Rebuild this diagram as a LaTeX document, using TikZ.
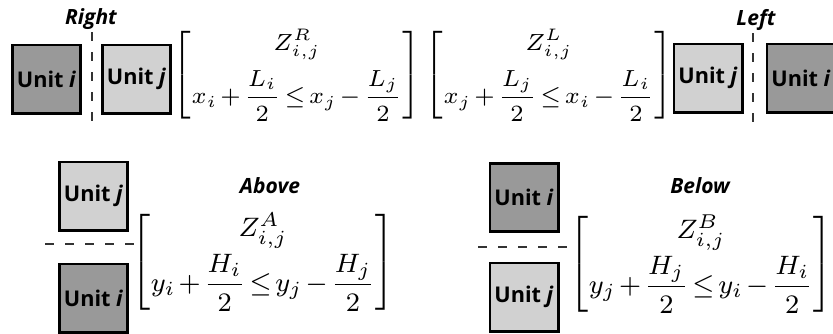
\documentclass[tikz,border=0pt]{standalone}
\usepackage{amsmath, amssymb}
\usepackage{fontspec}
\newfontfamily\labelfont{Open Sans}
\usetikzlibrary{positioning}
\setlength{\arraycolsep}{1pt}
\thickmuskip=2.5mu plus 2mu
\medmuskip=2mu plus 1mu

\begin{document}
\begin{tikzpicture}[x=0.3pt, y=-0.3pt,
    unitdark/.style={draw, line width=0.8pt, fill=black!40, minimum width=20.5pt, minimum height=20.5pt, inner sep=0pt, font=\labelfont\fontsize{6.5}{7}\selectfont\bfseries},
    unitlight/.style={unitdark, fill=black!18},
    sidelabel/.style={font=\labelfont\fontsize{6.3}{7}\selectfont\bfseries\itshape},
    eqn/.style={inner sep=0pt, font=\fontsize{8}{9.6}\selectfont},
    eqnsmall/.style={eqn, font=\fontsize{7.3}{8.8}\selectfont},
    split/.style={draw=black!80, line width=0.35pt, dash pattern=on 2.6pt off 3.4pt}]
            \useasboundingbox (0,0) rectangle (833,333);
            % right
            \node[unitdark] (Ri) at (46.5,79) {Unit \textit{i}};
            \node[unitlight] (Rj) at (136.5,79) {Unit \textit{j}};
            \node[sidelabel] (Rlab) at (91,19) {Right};
            \coordinate (Rtop) at (92,32);
            \coordinate (Rbot) at (92,125);
            \draw[split] (Rtop) -- (Rbot);
            \node[eqnsmall] (Req) at (297,75) {$\begin{bmatrix} Z^R_{i,j} \\[3.5pt] x_i+\dfrac{L_i}{2}\leq x_j-\dfrac{L_j}{2}\end{bmatrix}$};
            % left
            \node[eqnsmall] (Leq) at (549,75) {$\begin{bmatrix} Z^L_{i,j} \\[3.5pt] x_j+\dfrac{L_j}{2}\leq x_i-\dfrac{L_i}{2}\end{bmatrix}$};
            \node[unitlight] (Lj) at (708,78) {Unit \textit{j}};
            \node[unitdark] (Li) at (801,78) {Unit \textit{i}};
            \node[sidelabel] (Llab) at (756,20) {Left};
            \coordinate (Ltop) at (753,33);
            \coordinate (Lbot) at (753,127);
            \draw[split] (Ltop) -- (Lbot);
            % above
            \node[unitlight] (Aj) at (93.5,196) {Unit \textit{j}};
            \node[unitdark] (Ai) at (93.5,298) {Unit \textit{i}};
            \coordinate (Aleft) at (45,244);
            \coordinate (Aright) at (137,244);
            \draw[split] (Aleft) -- (Aright);
            \node[sidelabel] (Alab) at (270,186) {Above};
            \node[eqn] (Aeq) at (263,262) {$\begin{bmatrix} Z^A_{i,j} \\[2.5pt] y_i+\dfrac{H_i}{2}\leq y_j-\dfrac{H_j}{2}\end{bmatrix}$};
            % below
            \node[unitdark] (Bi) at (524,197.5) {Unit \textit{i}};
            \node[unitlight] (Bj) at (524,297) {Unit \textit{j}};
            \coordinate (Bleft) at (478,247);
            \coordinate (Bright) at (572,247);
            \draw[split] (Bleft) -- (Bright);
            \node[sidelabel] (Blab) at (700,186) {Below};
            \node[eqn] (Beq) at (701,264) {$\begin{bmatrix} Z^B_{i,j} \\[2.5pt] y_j+\dfrac{H_j}{2}\leq y_i-\dfrac{H_i}{2}\end{bmatrix}$};
        \end{tikzpicture}
\end{document}
